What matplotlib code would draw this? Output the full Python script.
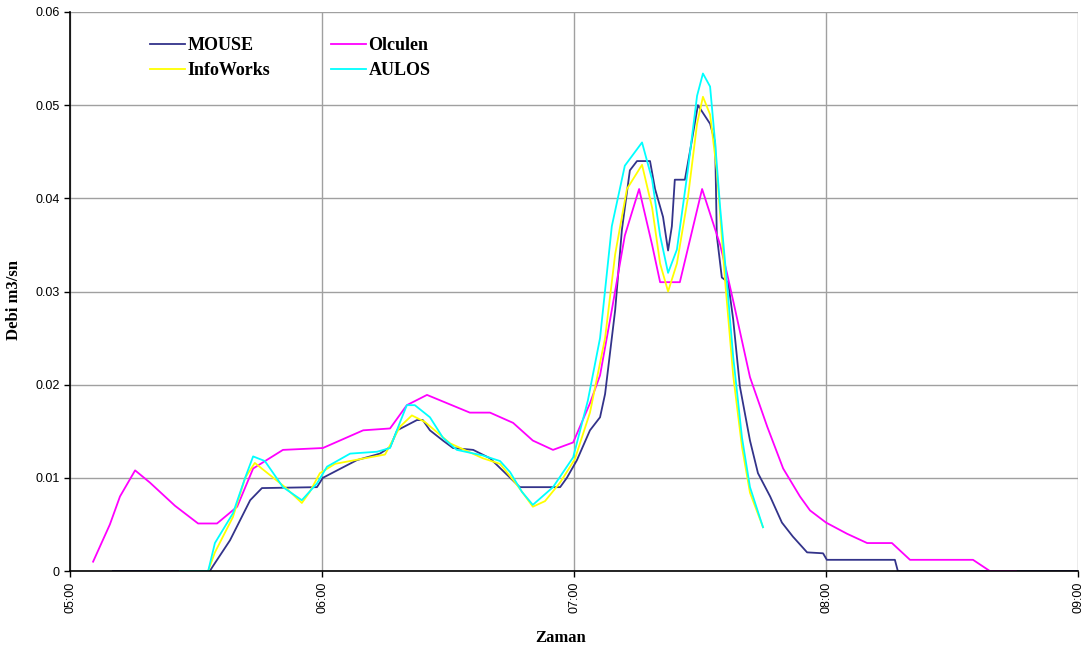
import numpy as np
import matplotlib
matplotlib.use("Agg")
import matplotlib.pyplot as plt

# time in minutes after 05:00, flow in m3/s
mouse_t = [10.2, 33.3, 34.0, 38.1, 42.9, 45.7, 58.8, 60.2, 63.6, 68.3, 73.8, 76.2, 77.9,
           82.6, 84.0, 85.7, 88.8, 91.2, 96.0, 100.0, 107.1, 116.7, 118.3, 120.7, 123.8,
           126.2, 127.4, 129.8, 131.4, 133.3, 135.0, 138.1, 139.3, 141.2, 142.4, 143.3,
           144.0, 146.4, 147.6, 149.5, 152.4, 153.6, 154.0, 155.2, 156.7, 157.9, 159.5,
           161.9, 163.8, 166.7, 169.5, 172.1, 175.5, 179.3, 180.2, 196.4, 197.1, 240.0]
mouse_q = [0, 0, 0.0005, 0.0033, 0.0076, 0.0089, 0.009, 0.010, 0.0108, 0.0119, 0.0126,
           0.0133, 0.0151, 0.0162, 0.0162, 0.0151, 0.014, 0.0132, 0.013, 0.0121, 0.009,
           0.009, 0.010, 0.0119, 0.0151, 0.0165, 0.019, 0.028, 0.0366, 0.043, 0.044, 0.044,
           0.041, 0.038, 0.0344, 0.037, 0.042, 0.042, 0.045, 0.050, 0.048, 0.046, 0.036,
           0.0315, 0.031, 0.027, 0.0198, 0.014, 0.0105, 0.008, 0.0052, 0.0037, 0.002,
           0.0019, 0.0012, 0.0012, 0, 0]

olculen_t = [5.5, 9.5, 11.9, 15.5, 19.0, 25.0, 30.5, 35.0, 39.8, 43.6, 50.7, 60.2, 69.8,
             76.2, 80.2, 85.0, 95.2, 100.0, 105.5, 110.2, 115.0, 119.8, 123.8, 126.2, 129.0,
             132.1, 135.5, 138.6, 140.5, 145.2, 150.5, 154.8, 156.4, 157.9, 161.9, 166.0,
             169.8, 173.8, 176.2, 180.0, 185.0, 189.8, 195.7, 200.0, 215.0, 219.0, 225.2]
olculen_q = [0.001, 0.005, 0.008, 0.0108, 0.0095, 0.007, 0.0051, 0.0051, 0.0069, 0.011,
             0.013, 0.0132, 0.0151, 0.0153, 0.0178, 0.0189, 0.017, 0.017, 0.0159, 0.014,
             0.013, 0.0138, 0.018, 0.021, 0.028, 0.036, 0.041, 0.035, 0.031, 0.031, 0.041,
             0.035, 0.032, 0.029, 0.0208, 0.0155, 0.011, 0.008, 0.0065, 0.0052, 0.004,
             0.003, 0.003, 0.0012, 0.0012, 0, 0]

infoworks_t = [26.2, 32.9, 34.5, 38.8, 41.7, 44.0, 47.6, 51.2, 55.2, 57.1, 59.5, 63.1, 69.0,
               75.0, 78.6, 81.4, 84.5, 90.5, 98.3, 102.4, 106.0, 110.2, 113.1, 116.7, 120.2,
               123.8, 127.4, 129.8, 132.6, 136.2, 138.6, 140.5, 142.4, 144.5, 147.1, 149.3,
               150.7, 152.4, 154.0, 156.0, 157.9, 160.0, 161.9, 165.0]
infoworks_q = [0, 0, 0.002, 0.0058, 0.010, 0.0116, 0.0103, 0.009, 0.0073, 0.0085, 0.0105,
               0.0115, 0.012, 0.0125, 0.0155, 0.0167, 0.016, 0.0137, 0.0121, 0.0115, 0.0095,
               0.0069, 0.0075, 0.0095, 0.012, 0.017, 0.025, 0.034, 0.041, 0.0436, 0.039,
               0.033, 0.030, 0.033, 0.040, 0.048, 0.0509, 0.049, 0.043, 0.031, 0.021, 0.0133,
               0.0084, 0.0047]

aulos_t = [26.2, 32.9, 34.5, 38.8, 41.7, 43.6, 46.4, 50.7, 55.2, 58.8, 61.2, 66.7, 73.1,
           76.2, 78.6, 80.2, 82.1, 85.7, 88.8, 92.1, 98.3, 102.4, 104.8, 107.6, 110.2, 115.0,
           119.8, 123.3, 126.2, 129.0, 132.1, 136.2, 138.6, 140.5, 142.4, 144.5, 147.1,
           149.3, 150.7, 152.4, 153.6, 154.8, 156.4, 157.9, 160.0, 161.9, 165.0]
aulos_q = [0, 0, 0.003, 0.0062, 0.010, 0.0123, 0.0118, 0.009, 0.0076, 0.0094, 0.0112,
           0.0126, 0.0128, 0.0132, 0.016, 0.0178, 0.0178, 0.0165, 0.0143, 0.013, 0.0124,
           0.0118, 0.0106, 0.0085, 0.0071, 0.009, 0.0122, 0.0183, 0.025, 0.037, 0.0435,
           0.046, 0.042, 0.036, 0.032, 0.0345, 0.043, 0.051, 0.0534, 0.052, 0.046, 0.039,
           0.031, 0.023, 0.0143, 0.009, 0.0047]

hour_ticks = [0, 60, 120, 180, 240]
hour_labels = ["05:00", "06:00", "07:00", "08:00", "09:00"]
y_ticks = [0, 0.01, 0.02, 0.03, 0.04, 0.05, 0.06]
y_labels = ["0", "0.01", "0.02", "0.03", "0.04", "0.05", "0.06"]

fig = plt.figure(figsize=(10.92, 6.51), dpi=100)
ax = fig.add_axes([70 / 1092, 1 - 571 / 651, 1008 / 1092, 559 / 651])

lw = 1.3
ax.plot(mouse_t, mouse_q, color="#33338a", lw=lw, label="MOUSE")
ax.plot(olculen_t, olculen_q, color="#ff00ff", lw=lw, label="Olculen")
ax.plot(infoworks_t, infoworks_q, color="#ffff00", lw=lw, label="InfoWorks")
ax.plot(aulos_t, aulos_q, color="#00ffff", lw=lw, label="AULOS")

ax.set_xlim(0, 240)
ax.set_ylim(0, 0.06)
ax.set_xticks(hour_ticks)
ax.set_xticklabels(hour_labels, rotation=90, fontsize=9, family="Liberation Sans")
ax.set_yticks(y_ticks)
ax.set_yticklabels(y_labels, fontsize=9, family="Liberation Sans")
ax.tick_params(axis="both", direction="out", length=4, width=1, colors="black")
ax.grid(True, color="#a0a0a0", lw=1)
ax.set_axisbelow(True)
for s in ["top", "right"]:
    ax.spines[s].set_visible(False)
for s in ["left", "bottom"]:
    ax.spines[s].set_color("black")
    ax.spines[s].set_linewidth(1.2)

ax.set_xlabel("Zaman", fontsize=12, fontweight="bold", family="Liberation Serif")
ax.set_ylabel("Debi m3/sn", fontsize=12, fontweight="bold", family="Liberation Serif")
ax.xaxis.set_label_coords(0.487, -0.105)
ax.yaxis.set_label_coords(-0.048, 0.485)

h, l = ax.get_legend_handles_labels()
order = [0, 2, 1, 3]
ax.legend([h[i] for i in order], [l[i] for i in order], ncol=2, frameon=False,
          loc="upper left", bbox_to_anchor=(134 / 1092, 1 - 21 / 651),
          bbox_transform=fig.transFigure, handlelength=1.9, handletextpad=0.15,
          columnspacing=3.4, labelspacing=0.45,
          prop={"family": "Liberation Serif", "weight": "bold", "size": 13})

fig.savefig("out.png", dpi=100)
